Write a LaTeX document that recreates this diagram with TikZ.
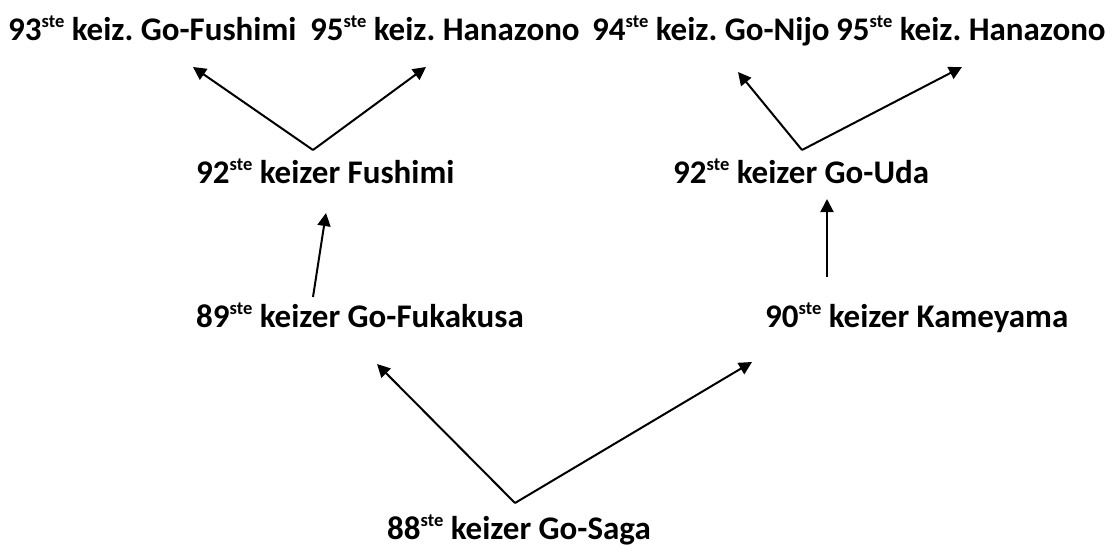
\documentclass[tikz,border=0pt]{standalone}
\usepackage{fontspec}
\setmainfont{Carlito}
\usetikzlibrary{arrows.meta}
\frenchspacing
\newcommand{\st}{\raisebox{12.5pt}{\fontsize{18.5}{18.5}\selectfont\bfseries ste}}
\begin{document}
\begin{tikzpicture}[x=1pt,y=-1pt,
  lbl/.style={anchor=base west, inner sep=0pt, font=\fontsize{33}{37}\selectfont\bfseries},
  arr/.style={line width=2pt, -{Triangle[length=13pt,width=13pt]}}]
\useasboundingbox (0,0) rectangle (1112,547);
\node[lbl] (n93) at (8,40) {93\st{} keiz. Go-Fushimi};
\node[lbl] (n95a) at (310,40) {95\st{} keiz. Hanazono};
\node[lbl] (n94) at (592,40) {94\st{} keiz. Go-Nijo};
\node[lbl] (n95b) at (836,40) {95\st{} keiz. Hanazono};
\node[lbl] (n92a) at (196,183) {92\st{} keizer Fushimi};
\node[lbl] (n92b) at (673,183) {92\st{} keizer Go-Uda};
\node[lbl] (n89) at (196,327) {89\st{} keizer Go-Fukakusa};
\node[lbl] (n90) at (765,327) {90\st{} keizer Kameyama};
\node[lbl] (n88) at (387,539) {88\st{} keizer Go-Saga};
% connector ends
\coordinate (fa) at (313,150);
\coordinate (fb) at (802,150);
\coordinate (fk) at (313,297);
\coordinate (km) at (827,277);
\coordinate (gs) at (515,503);
\coordinate (t93) at (193,67);
\coordinate (t95a) at (426,67);
\coordinate (t94) at (738,72);
\coordinate (t95b) at (962,67);
\coordinate (t92a) at (326,213);
\coordinate (t92b) at (827,199);
\coordinate (t89) at (377,364);
\coordinate (t90) at (752,362);
\draw[arr] (fa) -- (t93);
\draw[arr] (fa) -- (t95a);
\draw[arr] (fb) -- (t94);
\draw[arr] (fb) -- (t95b);
\draw[arr] (fk) -- (t92a);
\draw[arr] (km) -- (t92b);
\draw[arr] (gs) -- (t89);
\draw[arr] (gs) -- (t90);
\end{tikzpicture}
\end{document}
